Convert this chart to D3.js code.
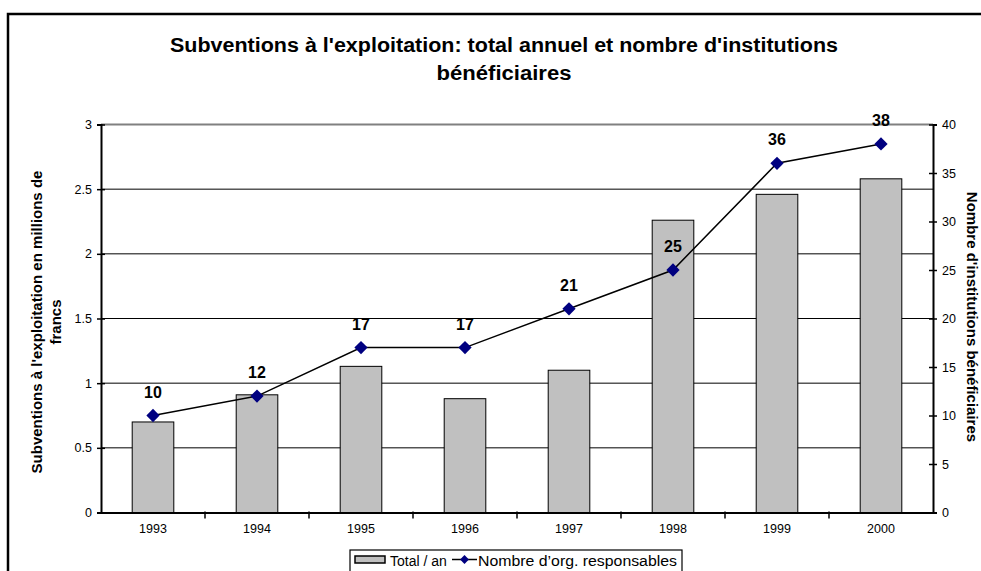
<!DOCTYPE html>
<html>
<head>
<meta charset="utf-8">
<script src="https://cdn.jsdelivr.net/npm/d3@7"></script>
<style>
  body { margin: 0; background: #fff; overflow: hidden; }
  text { font-family: "Liberation Sans", Arial, sans-serif; }
</style>
</head>
<body>
<div id="chart"></div>
<script>
const width = 981;
const height = 571;

// data
var years = ['1993', '1994', '1995', '1996', '1997', '1998', '1999', '2000'];
var totals = [0.70, 0.91, 1.13, 0.88, 1.10, 2.26, 2.46, 2.58];
var institutions = [10, 12, 17, 17, 21, 25, 36, 38];
var leftTicks = [0, 0.5, 1, 1.5, 2, 2.5, 3];
var rightTicks = [0, 5, 10, 15, 20, 25, 30, 35, 40];

var bar_fill = '#c0c0c0';
var marker_fill = '#000080';
var font = "Liberation Sans, Arial, sans-serif";

const plot = {left: 101, right: 933, top: 124.5, bottom: 512.5};

var svg = d3.select("div#chart")
  .append("svg")
  .attr("width", width)
  .attr("height", height);

// outer frame (right and bottom sides fall outside the picture)
svg.append("rect")
  .attr("x", 8).attr("y", 14)
  .attr("width", 990).attr("height", 600)
  .attr("fill", "none")
  .attr("stroke", "#000")
  .attr("stroke-width", 2.5);

var x = d3.scaleBand().domain(years)
  .range([plot.left, plot.right])
  .paddingInner(0.6).paddingOuter(0.3);

var yL = d3.scaleLinear().domain([0, 3]).range([plot.bottom, plot.top]);
var yR = d3.scaleLinear().domain([0, 40]).range([plot.bottom, plot.top]);

// title
svg.append("text")
  .attr("x", 504).attr("y", 52)
  .attr("text-anchor", "middle")
  .attr("font-size", 19.5).attr("font-weight", "bold")
  .attr("textLength", 668).attr("lengthAdjust", "spacingAndGlyphs")
  .text("Subventions à l'exploitation: total annuel et nombre d'institutions");
svg.append("text")
  .attr("x", 504).attr("y", 80)
  .attr("text-anchor", "middle")
  .attr("font-size", 19.5).attr("font-weight", "bold")
  .attr("textLength", 135).attr("lengthAdjust", "spacingAndGlyphs")
  .text("bénéficiaires");

// gridlines
svg.append("g").selectAll("line")
  .data(leftTicks.filter(d => d > 0))
  .enter().append("line")
  .attr("x1", plot.left).attr("x2", plot.right)
  .attr("y1", d => yL(d)).attr("y2", d => yL(d))
  .attr("stroke", d => d === 3 ? "#808080" : "#000")
  .attr("stroke-width", d => d === 3 ? 2 : 1);

// bars
svg.append("g").selectAll("rect")
  .data(totals)
  .enter().append("rect")
  .attr("x", (d, i) => x(years[i]))
  .attr("y", d => yL(d))
  .attr("width", x.bandwidth())
  .attr("height", d => yL(0) - yL(d))
  .attr("fill", bar_fill)
  .attr("stroke", "#000")
  .attr("stroke-width", 1);

// left axis
var axL = svg.append("g")
  .attr("transform", "translate(" + plot.left + ",0)")
  .call(d3.axisLeft(yL).tickValues(leftTicks).tickSize(4).tickFormat(d3.format("")));
axL.select(".domain").attr("stroke-width", 2);
axL.selectAll(".tick line").attr("x2", 4).attr("x1", -4).attr("stroke-width", 1.5);
axL.selectAll("text").attr("font-size", 12.5).attr("x", -9).attr("font-family", font);

// right axis
var axR = svg.append("g")
  .attr("transform", "translate(" + plot.right + ",0)")
  .call(d3.axisRight(yR).tickValues(rightTicks).tickSize(4));
axR.select(".domain").attr("stroke-width", 2);
axR.selectAll(".tick line").attr("x1", -4).attr("x2", 4).attr("stroke-width", 1.5);
axR.selectAll("text").attr("font-size", 12.5).attr("x", 9).attr("font-family", font);

// bottom axis
var axB = svg.append("g")
  .attr("transform", "translate(0," + plot.bottom + ")")
  .call(d3.axisBottom(x).tickSize(0).tickPadding(12));
axB.select(".domain").attr("stroke-width", 2);
axB.selectAll("text").attr("font-size", 12.5).attr("font-family", font);
var step = x.step();
svg.append("g").selectAll("line")
  .data(years.slice(1))
  .enter().append("line")
  .attr("x1", d => x(d) - (step - x.bandwidth()) / 2)
  .attr("x2", d => x(d) - (step - x.bandwidth()) / 2)
  .attr("y1", plot.bottom - 1).attr("y2", plot.bottom + 6)
  .attr("stroke", "#000").attr("stroke-width", 1.5);

// line series
var cx = (d, i) => x(years[i]) + x.bandwidth() / 2;
var line = d3.line().x(cx).y(d => yR(d));
svg.append("path")
  .datum(institutions)
  .attr("d", line)
  .attr("fill", "none")
  .attr("stroke", "#000")
  .attr("stroke-width", 1.5);

var diamond = d3.symbol().type(d3.symbolDiamond2).size(112);
svg.append("g").selectAll("path")
  .data(institutions)
  .enter().append("path")
  .attr("d", diamond)
  .attr("transform", (d, i) => "translate(" + cx(d, i) + "," + yR(d) + ")")
  .attr("fill", marker_fill);

svg.append("g").selectAll("text")
  .data(institutions)
  .enter().append("text")
  .attr("x", cx)
  .attr("y", d => yR(d) - 18)
  .attr("text-anchor", "middle")
  .attr("font-size", 16).attr("font-weight", "bold")
  .text(d => d);

// axis titles
var lt = svg.append("text")
  .attr("transform", "translate(42,322) rotate(-90)")
  .attr("text-anchor", "middle")
  .attr("font-size", 15).attr("font-weight", "bold");
lt.append("tspan").attr("x", 0).attr("dy", 0).text("Subventions à l'exploitation en millions de");
lt.append("tspan").attr("x", 0).attr("dy", 19).text("francs");

svg.append("text")
  .attr("transform", "translate(967,317) rotate(90)")
  .attr("text-anchor", "middle")
  .attr("font-size", 15).attr("font-weight", "bold")
  .text("Nombre d'institutions bénéficiaires");

// legend (nudged up a little so its text stays inside the picture)
var lg = svg.append("g").attr("transform", "translate(350,550)");
lg.append("rect").attr("x", 0).attr("y", 0).attr("width", 332).attr("height", 30)
  .attr("fill", "#fff").attr("stroke", "#000").attr("stroke-width", 1.2);
lg.append("rect").attr("x", 5).attr("y", 6).attr("width", 30).attr("height", 7)
  .attr("fill", bar_fill).attr("stroke", "#000").attr("stroke-width", 1.5);
lg.append("text").attr("x", 40).attr("y", 16).attr("font-size", 14).text("Total / an");
lg.append("line").attr("x1", 102).attr("x2", 127).attr("y1", 9.5).attr("y2", 9.5)
  .attr("stroke", "#000").attr("stroke-width", 1.5);
lg.append("path").attr("d", d3.symbol().type(d3.symbolDiamond2).size(50))
  .attr("transform", "translate(114.5,9.5)").attr("fill", marker_fill);
lg.append("text").attr("x", 128).attr("y", 16).attr("font-size", 14)
  .attr("textLength", 199).attr("lengthAdjust", "spacingAndGlyphs")
  .text("Nombre d’org. responsables");
</script>
</body>
</html>
